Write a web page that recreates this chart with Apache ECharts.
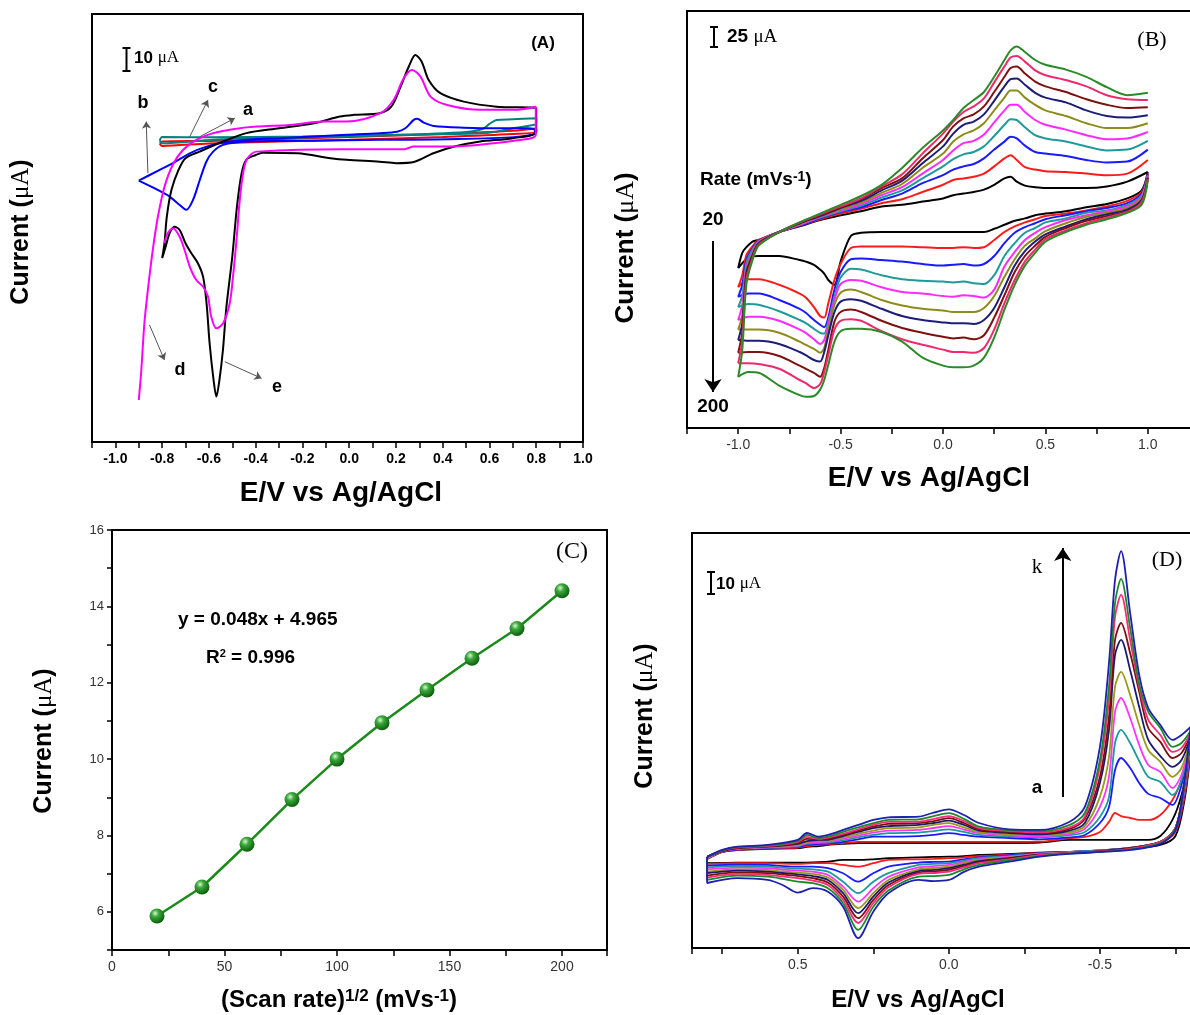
<!DOCTYPE html>
<html>
<head>
<meta charset="utf-8">
<title>CV panels A-D</title>
<script src="https://cdn.jsdelivr.net/npm/echarts@6/dist/echarts.min.js"></script>
<style>
  html, body { margin: 0; padding: 0; background: #fff; }
  #main { width: 1190px; height: 1015px; }
</style>
</head>
<body>
<div id="main"></div>
<script>
// ---------- panel A : five electrodes, potential (V) / current (uA) ----------
var A_a_E = [-0.81, -0.8, -0.6, 0.0, 0.4, 0.7, 0.8, 0.8, 0.7, 0.4, 0.0, -0.6, -0.8, -0.81];
var A_a_I = [-0.3, 0.8, 1.1, 3.0, 4.4, 5.9, 7.0, 5.5, 4.4, 3.0, 1.6, -0.1, -1.3, -0.3];

var A_c_E = [-0.81, -0.8, -0.6, -0.2, 0.2, 0.5, 0.57, 0.6, 0.63, 0.7, 0.8, 0.8, 0.7, 0.63, 0.56, 0.27, -0.3, -0.58, -0.8, -0.81];
var A_c_I = [1.5, 3.0, 2.8, 3.2, 4.0, 5.4, 6.8, 9.2, 11.1, 11.4, 11.9, 9.5, 7.1, 5.5, 4.8, 4.0, 2.4, 1.6, 0.0, 1.5];

var A_b_E = [-0.90, -0.825, -0.754, -0.682, -0.611, -0.539, -0.396, -0.296, -0.01, 0.133, 0.205, 0.24, 0.276, 0.291, 0.319, 0.362, 0.491, 0.634, 0.763, 0.794,
             0.794, 0.705, 0.419, 0.133, -0.153, -0.439, -0.539, -0.582, -0.611, -0.639, -0.668, -0.697, -0.725, -0.768, -0.825, -0.90];
var A_b_I = [-17.8, -13.5, -9.5, -4.8, -1.6, 0.3, 2.0, 2.4, 4.0, 4.8, 5.5, 7.1, 11.1, 11.6, 9.8, 8.2, 7.4, 7.1, 7.1, 6.3,
             4.8, 2.9, 1.9, 1.6, 1.2, 0.8, -0.8, -4.0, -8.8, -17.5, -27.0, -31.7, -29.4, -25.4, -21.9, -17.8];

var A_e_E = [-0.80, -0.79, -0.78, -0.76, -0.73, -0.70, -0.64, -0.54, -0.44, -0.30, -0.15, -0.04, 0.02, 0.13, 0.18, 0.22, 0.255, 0.283, 0.31, 0.34, 0.39, 0.49, 0.63, 0.80,
             0.80, 0.70, 0.56, 0.45, 0.36, 0.28, 0.20, 0.13, -0.01, -0.08, -0.22, -0.37, -0.40, -0.44, -0.46, -0.48, -0.50, -0.525, -0.54, -0.555, -0.568, -0.58,
             -0.597, -0.61, -0.625, -0.647, -0.675, -0.70, -0.725, -0.747, -0.768, -0.785, -0.80];
var A_e_I = [-54.7, -47.6, -34.9, -22.2, -12.7, -7.1, -4.0, 0.8, 4.8, 7.1, 9.5, 12.7, 13.5, 14.3, 17.4, 26.9, 36.5, 42.0, 38.8, 30.1, 23.8, 19.8, 17.4, 16.7,
             5.5, 2.4, 0.8, -1.6, -4.8, -8.8, -9.5, -8.8, -7.9, -7.1, -4.8, -4.5, -5.6, -7.9, -14.3, -30.2, -54.0, -77.8, -98.4, -112.7, -120.6, -112.7,
             -95.2, -76.2, -63.5, -57.1, -52.4, -47.6, -41.3, -39.7, -42.8, -49.2, -54.7];

var A_d_E = [-0.90, -0.89, -0.876, -0.861, -0.84, -0.818, -0.79, -0.754, -0.711, -0.654, -0.582, -0.497, -0.396, -0.253, -0.11, -0.01, 0.133, 0.19, 0.233, 0.269, 0.305,
             0.348, 0.419, 0.562, 0.705, 0.798, 0.798, 0.705, 0.419, 0.276, 0.233, 0.19, -0.039, -0.396, -0.418, -0.439, -0.454, -0.468, -0.482, -0.497, -0.511,
             -0.539, -0.568, -0.59, -0.604, -0.625, -0.654, -0.682, -0.704, -0.725, -0.754, -0.776, -0.79];
var A_d_I = [-122.2, -109.5, -85.7, -69.8, -50.8, -34.9, -20.7, -10.1, -3.2, 1.6, 4.8, 6.7, 7.9, 8.7, 10.3, 10.3, 14.3, 20.6, 30.9, 34.9, 31.7,
             22.2, 18.2, 15.9, 15.9, 17.4, 4.0, 1.2, -1.6, -1.6, -2.9, -2.9, -2.9, -4.0, -5.1, -7.9, -14.3, -27.0, -46.0, -63.5, -76.2,
             -85.7, -88.1, -82.5, -73.0, -68.3, -65.1, -58.7, -50.8, -44.5, -40.5, -42.8, -47.6];

// ---------- panel B : scan rates 20..200 mV/s ----------
var B_RATES = [20, 40, 60, 80, 100, 120, 140, 160, 180, 200];
var B_COLORS = ['#000000', '#ff1a1a', '#1a1aff', '#1f9a9a', '#ff2aff', '#8c8c1a', '#1c1c7a', '#7f1010', '#ee2a6a', '#2a8a2a'];
var B_UP_E = [-1.0, -0.98, -0.96, -0.93, -0.9, -0.8, -0.7, -0.6, -0.5, -0.4, -0.3, -0.2, -0.1, 0.0, 0.05, 0.1, 0.15, 0.2, 0.25, 0.3, 0.33, 0.36, 0.4, 0.45, 0.5, 0.6, 0.7, 0.8, 0.9, 1.0];
var B_DN_E = [1.0, 0.97, 0.9, 0.8, 0.7, 0.6, 0.5, 0.45, 0.4, 0.35, 0.3, 0.25, 0.2, 0.15, 0.1, 0.05, 0.0, -0.1, -0.2, -0.3, -0.4, -0.45, -0.5, -0.53, -0.56, -0.58, -0.6, -0.63, -0.67, -0.7, -0.8, -0.9, -0.95, -1.0];

var B_UP_20  = [-35, -16, -9, -2, 0, 10, 17, 25, 31, 36, 42, 44, 48, 52, 56, 58, 60, 63, 69, 77, 79, 73, 68, 66, 65, 65, 65, 67, 73, 85];
var B_UP_40  = [-59, -44, -19, -8, 0, 10, 18, 26, 33, 39, 46, 51, 60, 69, 75, 77, 79, 83, 92, 102, 106, 100, 91, 88, 86, 85, 83, 81, 83, 100];
var B_UP_60  = [-71, -56, -25, -10, -1, 10, 18, 27, 35, 41, 50, 58, 71, 81, 88, 92, 95, 102, 113, 123, 129, 127, 118, 110, 108, 105, 100, 97, 98, 113];
var B_UP_80  = [-84, -69, -29, -12, -2, 10, 19, 28, 36, 43, 53, 62, 77, 92, 101, 107, 110, 117, 130, 144, 151, 150, 141, 131, 127, 123, 117, 112, 113, 124];
var B_UP_100 = [-100, -81, -34, -15, -2, 10, 19, 29, 37, 45, 56, 66, 83, 100, 112, 121, 124, 132, 147, 162, 169, 169, 160, 150, 144, 138, 131, 126, 127, 135];
var B_UP_120 = [-112, -94, -37, -17, -3, 10, 20, 30, 38, 47, 59, 70, 90, 108, 123, 132, 137, 146, 162, 178, 187, 187, 178, 169, 162, 155, 146, 140, 140, 146];
var B_UP_140 = [-125, -104, -41, -19, -4, 10, 21, 30, 40, 49, 62, 74, 96, 117, 133, 144, 148, 157, 174, 192, 201, 202, 194, 184, 178, 172, 162, 155, 153, 156];
var B_UP_160 = [-141, -115, -45, -21, -5, 10, 21, 31, 41, 51, 65, 77, 102, 125, 142, 152, 157, 167, 185, 204, 215, 217, 208, 198, 192, 185, 176, 169, 165, 166];
var B_UP_180 = [-154, -125, -50, -23, -6, 10, 22, 32, 42, 52, 67, 82, 108, 133, 148, 160, 167, 177, 197, 217, 228, 230, 223, 212, 206, 200, 192, 181, 176, 175];
var B_UP_200 = [-171, -137, -55, -25, -7, 10, 22, 33, 44, 55, 69, 90, 115, 137, 150, 165, 175, 185, 204, 225, 237, 242, 235, 225, 219, 213, 204, 191, 181, 184];

var B_DN_20  = [85, 62, 52, 45, 41, 36, 33, 31, 27, 24, 19, 14, 10, 10, 10, 10, 10, 10, 10, 10, 9, 5, -27, -56, -50, -42, -37, -31, -27, -25, -20, -20, -22, -35];
var B_DN_40  = [83, 60, 49, 42, 37, 33, 30, 26, 22, 17, 10, 0, -9, -10, -9, -10, -10, -9, -8, -8, -8, -10, -30, -50, -79, -97, -95, -84, -72, -67, -56, -49, -49, -59];
var B_DN_60  = [82, 58, 46, 40, 36, 31, 26, 21, 16, 9, -4, -20, -30, -32, -30, -31, -32, -30, -27, -25, -23, -24, -40, -62, -97, -109, -106, -100, -91, -86, -75, -67, -67, -71];
var B_DN_80  = [81, 56, 44, 37, 34, 27, 22, 15, 9, -4, -20, -44, -55, -54, -52, -53, -52, -51, -49, -44, -37, -36, -47, -71, -102, -117, -116, -111, -104, -100, -89, -81, -80, -84];
var B_DN_100 = [80, 54, 42, 36, 31, 25, 16, 9, 0, -15, -33, -62, -72, -70, -69, -71, -70, -67, -65, -59, -51, -50, -55, -75, -106, -125, -130, -124, -116, -112, -101, -96, -96, -100];
var B_DN_120 = [79, 52, 40, 34, 29, 21, 11, 2, -7, -24, -46, -70, -85, -90, -90, -90, -88, -86, -82, -75, -65, -62, -66, -81, -112, -135, -141, -136, -131, -127, -116, -112, -112, -112];
var B_DN_140 = [78, 50, 38, 32, 26, 17, 7, -2, -14, -32, -59, -85, -100, -105, -104, -104, -103, -100, -95, -86, -76, -74, -77, -90, -119, -140, -152, -150, -144, -140, -130, -126, -126, -125];
var B_DN_160 = [77, 48, 36, 30, 24, 15, 4, -7, -20, -40, -69, -97, -119, -124, -122, -123, -121, -116, -110, -101, -90, -87, -90, -102, -137, -160, -171, -166, -161, -157, -145, -140, -140, -141];
var B_DN_180 = [76, 47, 35, 28, 21, 12, 1, -12, -27, -50, -79, -112, -135, -141, -140, -140, -137, -131, -124, -114, -101, -99, -101, -112, -144, -165, -180, -185, -179, -175, -161, -155, -154, -154];
var B_DN_200 = [75, 44, 34, 26, 19, 10, -2, -16, -32, -56, -87, -122, -147, -157, -159, -159, -157, -147, -127, -115, -111, -111, -114, -127, -156, -175, -187, -195, -196, -194, -182, -166, -165, -171];

// ---------- panel C : peak current vs (scan rate)^1/2 ----------
var C_RATE = [20, 40, 60, 80, 100, 120, 140, 160, 180, 200];
var C_CURRENT = [5.89, 6.65, 7.77, 8.94, 10.0, 10.95, 11.81, 12.64, 13.42, 14.41];

// ---------- panel D : curves a..k (reversed potential axis) ----------
var D_NAMES = ['a', 'b', 'c', 'd', 'e', 'f', 'g', 'h', 'i', 'j', 'k'];
var D_COLORS = ['#000000', '#ff1a1a', '#1a1aff', '#1a9a9a', '#ff33ff', '#9a9a1a', '#1a1a6e', '#7a1010', '#ff2a7a', '#1a8a2a', '#1f1fb0'];
var D_UP_E = [0.8, 0.75, 0.7, 0.6, 0.5, 0.47, 0.43, 0.4, 0.35, 0.3, 0.25, 0.2, 0.1, 0.05, 0.0, -0.05, -0.1, -0.2, -0.3, -0.4, -0.45, -0.5, -0.53, -0.55, -0.57, -0.6, -0.63, -0.66, -0.7, -0.74, -0.77, -0.8];
var D_DN_E = [-0.78, -0.75, -0.7, -0.6, -0.5, -0.4, -0.3, -0.2, -0.1, -0.05, 0.0, 0.05, 0.1, 0.2, 0.25, 0.3, 0.35, 0.4, 0.45, 0.5, 0.55, 0.6, 0.7, 0.8];

var D_UP_a = [-4.1, -0.9, 0, 0.5, 0.8, 1.4, 1.8, 2.3, 2.8, 3.2, 3.2, 3.2, 3.2, 3.2, 3.2, 3.2, 3.2, 3.2, 3.4, 4.6, 4.6, 4.6, 4.6, 4.6, 4.6, 4.6, 4.6, 4.6, 6.4, 13.8, 25.3, 45.1];
var D_UP_b = [-4.1, -0.9, 0, 0.7, 1.1, 1.8, 2.3, 2.6, 3.2, 3.7, 3.7, 3.7, 3.7, 3.7, 3.7, 3.7, 3.7, 3.7, 3.8, 5.4, 6.0, 8.3, 12.9, 17.0, 15.6, 14.7, 13.8, 13.8, 16.1, 23.0, 32.2, 46.9];
var D_UP_c = [-3.7, -0.9, 0.2, 0.9, 1.4, 2.3, 2.8, 2.9, 3.7, 4.9, 6.1, 6.1, 6.4, 6.9, 7.7, 6.9, 6.1, 5.5, 4.9, 5.8, 6.9, 12.4, 19.8, 36.8, 42.3, 37.7, 30.8, 25.8, 23.9, 20.7, 29.9, 48.3];
var D_UP_d = [-3.7, -0.7, 0.5, 1.1, 1.7, 2.8, 3.2, 3.4, 4.4, 5.8, 6.9, 7.7, 8.0, 8.7, 9.5, 8.3, 6.9, 6.1, 5.8, 6.8, 8.3, 15.2, 24.4, 49.2, 55.2, 49.2, 40.9, 33.6, 31.3, 25.3, 32.2, 49.2];
var D_UP_e = [-3.7, -0.7, 0.5, 1.2, 2.0, 3.2, 3.7, 3.8, 5.1, 6.6, 8.0, 8.9, 9.2, 10.1, 11.0, 9.4, 7.7, 6.7, 6.3, 7.4, 9.7, 19.8, 33.6, 63.5, 69.9, 60.7, 48.3, 39.1, 35.9, 28.5, 34.5, 50.1];
var D_UP_f = [-3.7, -0.5, 0.7, 1.4, 2.3, 3.7, 4.1, 4.3, 5.8, 7.4, 8.9, 10.0, 10.4, 11.5, 12.3, 10.4, 8.3, 7.2, 6.8, 8.1, 11.0, 24.4, 42.8, 75.0, 81.9, 71.3, 57.5, 46.0, 40.5, 33.6, 37.7, 51.1];
var D_UP_g = [-3.2, -0.5, 0.9, 1.5, 2.8, 4.1, 4.6, 4.7, 6.4, 8.3, 10.0, 11.0, 11.5, 12.4, 13.5, 11.5, 8.9, 7.8, 7.2, 8.9, 12.4, 30.8, 55.2, 89.7, 96.6, 82.8, 65.8, 50.6, 43.2, 38.2, 41.4, 52.0];
var D_UP_h = [-3.2, -0.5, 0.9, 1.7, 3.2, 5.1, 4.8, 5.2, 6.9, 8.9, 10.7, 12.0, 12.3, 13.3, 14.6, 12.4, 9.5, 8.3, 7.7, 9.7, 14.3, 33.6, 61.2, 96.6, 104.4, 90.6, 72.7, 56.1, 49.7, 42.3, 44.6, 52.9];
var D_UP_i = [-3.2, -0.2, 1.2, 1.8, 3.7, 6.0, 5.1, 5.7, 7.4, 9.5, 11.5, 12.9, 13.0, 14.3, 15.6, 13.3, 10.0, 8.7, 8.1, 10.4, 15.2, 38.2, 69.0, 107.2, 117.3, 96.6, 75.0, 59.8, 52.9, 45.1, 46.9, 53.8];
var D_UP_j = [-3.2, -0.2, 1.4, 2.1, 4.1, 6.9, 5.5, 6.1, 8.3, 10.4, 12.3, 13.8, 14.1, 15.6, 16.9, 14.3, 10.7, 9.1, 8.6, 11.5, 17.0, 41.4, 75.0, 113.6, 124.7, 102.1, 76.4, 63.5, 56.1, 47.4, 49.2, 54.7];
var D_UP_k = [-3.2, 0, 1.5, 2.3, 4.6, 7.8, 6.1, 6.9, 9.2, 11.5, 13.8, 15.0, 15.3, 17.2, 18.7, 16.1, 12.4, 9.5, 9.2, 13.0, 19.8, 47.4, 86.0, 124.2, 137.5, 109.0, 80.5, 65.3, 57.5, 50.6, 52.9, 56.6];

var D_DN_a = [23.0, 6.4, 2.3, 0.5, -0.5, -0.9, -1.2, -1.8, -2.3, -2.8, -3.1, -3.2, -3.4, -3.8, -4.3, -4.6, -4.6, -5.4, -5.7, -5.8, -5.8, -5.8, -5.8, -6.1];
var D_DN_b = [24.8, 8.3, 3.2, 0.9, -0.2, -0.9, -1.4, -2.2, -2.8, -3.4, -3.8, -4.1, -4.3, -4.6, -6.1, -7.7, -6.9, -6.1, -6.1, -6.4, -6.3, -6.1, -6.1, -6.4];
var D_DN_c = [26.7, 9.2, 3.7, 0.9, -0.2, -0.9, -1.5, -2.4, -3.4, -4.3, -5.4, -5.5, -5.8, -7.7, -10.7, -14.6, -10.7, -8.4, -7.7, -7.7, -7.4, -6.9, -6.8, -7.2];
var D_DN_d = [27.6, 9.7, 3.7, 0.9, -0.2, -0.9, -1.7, -2.8, -3.8, -4.9, -6.1, -6.4, -6.9, -10.7, -14.6, -19.9, -14.6, -10.0, -8.9, -8.6, -8.1, -7.7, -7.4, -8.0];
var D_DN_e = [28.5, 10.1, 3.7, 0.9, -0.5, -1.2, -1.8, -3.1, -4.3, -5.5, -6.9, -7.4, -8.0, -12.3, -17.6, -23.8, -16.9, -11.5, -10.0, -9.5, -9.0, -8.4, -8.1, -8.9];
var D_DN_f = [29.4, 10.1, 3.7, 0.9, -0.5, -1.2, -2.0, -3.4, -4.7, -6.1, -7.7, -8.3, -8.9, -13.8, -19.9, -26.8, -18.4, -12.7, -11.0, -10.4, -9.9, -9.2, -8.9, -10.0];
var D_DN_g = [29.9, 10.1, 3.7, 0.9, -0.5, -1.4, -2.2, -3.7, -5.2, -6.8, -8.4, -9.2, -9.7, -15.0, -21.5, -29.1, -19.9, -13.8, -12.0, -11.2, -10.6, -10.0, -9.5, -10.7];
var D_DN_h = [30.4, 10.1, 3.7, 0.7, -0.7, -1.4, -2.3, -4.0, -5.7, -7.4, -9.2, -9.9, -10.4, -16.1, -23.0, -31.4, -21.5, -15.0, -13.0, -12.0, -11.3, -10.7, -10.3, -11.8];
var D_DN_i = [30.8, 10.1, 3.7, 0.5, -0.7, -1.4, -2.4, -4.3, -6.1, -8.0, -10.0, -10.6, -11.0, -17.2, -24.5, -33.6, -23.0, -16.1, -14.1, -13.0, -12.2, -11.5, -11.0, -12.7];
var D_DN_j = [31.3, 9.7, 3.2, 0.2, -0.9, -1.6, -2.8, -4.7, -6.9, -8.9, -11.5, -12.0, -12.3, -18.7, -26.1, -36.8, -24.5, -17.6, -15.3, -14.6, -13.3, -12.3, -11.8, -13.8];
var D_DN_k = [32.2, 9.2, 2.8, 0, -0.9, -1.8, -3.1, -5.4, -7.7, -10.1, -13.8, -14.3, -13.8, -19.9, -28.4, -40.6, -26.1, -19.2, -17.6, -19.6, -16.1, -13.8, -13.0, -15.2];

// ---------- helpers ----------
var SANS = "'Liberation Sans', Arial, sans-serif";
var SERIF = "'Liberation Serif', 'Times New Roman', serif";

function pairs(E, I) {
    var out = [];
    for (var i = 0; i < E.length; i++) out.push([E[i], I[i]]);
    return out;
}

function cv(idx, data, color, width) {
    return {
        type: 'line', xAxisIndex: idx, yAxisIndex: idx,
        data: data, showSymbol: false, symbol: 'none',
        smooth: 0.3, silent: true, animation: false,
        lineStyle: { color: color, width: width || 2 },
        itemStyle: { color: color }
    };
}

function arrows(idx, lines, color, width, size) {
    return {
        type: 'line', xAxisIndex: idx, yAxisIndex: idx,
        data: [lines[0][0]], symbol: 'none', showSymbol: false,
        lineStyle: { opacity: 0 }, silent: true, animation: false,
        markLine: {
            silent: true, animation: false,
            symbol: ['none', 'arrow'], symbolSize: size,
            label: { show: false },
            lineStyle: { color: color, width: width, type: 'solid' },
            data: lines.map(function (l) { return [{ coord: l[0] }, { coord: l[1] }]; })
        }
    };
}

function txt(x, y, text, size, weight, family, align, rot) {
    return {
        type: 'text', x: x, y: y, rotation: rot || 0, silent: true, z: 100,
        style: {
            text: text, fill: '#000',
            font: (weight || 'normal') + ' ' + size + 'px ' + (family || SANS),
            align: align || 'center', verticalAlign: 'middle',
            textAlign: align || 'center', textVerticalAlign: 'middle'
        }
    };
}

function rtxt(x, y, text, rich, align, rot) {
    return {
        type: 'text', x: x, y: y, rotation: rot || 0, silent: true, z: 100,
        style: {
            text: text, rich: rich, fill: '#000',
            align: align || 'center', verticalAlign: 'middle',
            textAlign: align || 'center', textVerticalAlign: 'middle'
        }
    };
}

function seg(x1, y1, x2, y2, w) {
    return { type: 'line', silent: true, z: 100, shape: { x1: x1, y1: y1, x2: x2, y2: y2 }, style: { stroke: '#000', lineWidth: w || 2 } };
}

function bar(x, y1, y2) {
    return [seg(x, y1, x, y2), seg(x - 4, y1, x + 4, y1), seg(x - 4, y2, x + 4, y2)];
}

function currentTitle(x, y, size) {
    return rtxt(x, y, '{b|Current }{b|(}{m|μA}{b|)}', {
        b: { fontFamily: SANS, fontWeight: 'bold', fontSize: size, fill: '#000' },
        m: { fontFamily: SERIF, fontSize: size, fill: '#000' }
    }, 'center', Math.PI / 2);
}

function scaleText(x, y, num, size) {
    return rtxt(x, y, '{b|' + num + ' }{m|μA}', {
        b: { fontFamily: SANS, fontWeight: 'bold', fontSize: size, fill: '#000' },
        m: { fontFamily: SERIF, fontSize: size, fill: '#000' }
    }, 'left');
}

var fmtA = function (v) {
    var r = Math.round(v * 10);
    if (r < -10 || r % 2 !== 0) return '';
    return (r / 10).toFixed(1);
};
var fmtHalf = function (v) {
    var q = v * 4, r = Math.round(q);
    if (Math.abs(q - r) > 1e-6 || r % 2 !== 0) return '';
    return (r / 4).toFixed(1);
};

function frameGrid(l, t, w, h) {
    return {
        left: l, top: t, width: w, height: h,
        outerBoundsMode: 'none', containLabel: false,
        show: true, borderColor: '#000', borderWidth: 2, backgroundColor: 'transparent'
    };
}

function xAx(idx, min, max, step, fmt, labelStyle, inverse) {
    return {
        gridIndex: idx, type: 'value', min: min, max: max, interval: step, inverse: !!inverse,
        position: 'bottom',
        axisLine: { show: false, onZero: false },
        axisTick: { show: true, length: 6, lineStyle: { color: '#000', width: 1.5 } },
        axisLabel: Object.assign({ formatter: fmt, margin: 10, color: '#000', fontFamily: SANS, fontSize: 14 }, labelStyle || {}),
        splitLine: { show: false }
    };
}

function hiddenY(idx, min, max) {
    return { gridIndex: idx, type: 'value', min: min, max: max, show: false, axisLine: { onZero: false }, splitLine: { show: false } };
}

// ---------- series ----------
var series = [];
series.push(cv(0, pairs(A_a_E, A_a_I), '#ff0000'));
series.push(cv(0, pairs(A_c_E, A_c_I), '#008080'));
series.push(cv(0, pairs(A_b_E, A_b_I), '#0000ff'));
series.push(cv(0, pairs(A_e_E, A_e_I), '#000000'));
series.push(cv(0, pairs(A_d_E, A_d_I), '#ff00ff'));
series.push(arrows(0, [
    [[-0.639, 3.1], [-0.489, 11.9]],
    [[-0.682, 3.1], [-0.604, 20.6]],
    [[-0.861, -14.3], [-0.868, 10.3]],
    [[-0.854, -86.5], [-0.79, -103.2]],
    [[-0.532, -104], [-0.375, -111.9]]
], '#555', 1, 7));

var B_UPS = [B_UP_20, B_UP_40, B_UP_60, B_UP_80, B_UP_100, B_UP_120, B_UP_140, B_UP_160, B_UP_180, B_UP_200];
var B_DNS = [B_DN_20, B_DN_40, B_DN_60, B_DN_80, B_DN_100, B_DN_120, B_DN_140, B_DN_160, B_DN_180, B_DN_200];
B_RATES.forEach(function (r, i) {
    series.push(cv(1, pairs(B_UP_E, B_UPS[i]), B_COLORS[i], 2));
    series.push(cv(1, pairs(B_DN_E, B_DNS[i]), B_COLORS[i], 2));
});
series.push(arrows(1, [[[-1.123, -1.25], [-1.123, -190]]], '#000', 2, 13));

series.push({
    type: 'line', xAxisIndex: 2, yAxisIndex: 2, animation: false,
    data: pairs(C_RATE, C_CURRENT),
    symbol: 'circle', symbolSize: 15, showSymbol: true,
    lineStyle: { color: '#1b8a1b', width: 2.5 },
    itemStyle: {
        color: {
            type: 'radial', x: 0.38, y: 0.32, r: 0.7,
            colorStops: [
                { offset: 0, color: '#d9f7d0' },
                { offset: 0.35, color: '#3aa83a' },
                { offset: 1, color: '#0b5a0b' }
            ]
        }
    }
});

var D_UPS = [D_UP_a, D_UP_b, D_UP_c, D_UP_d, D_UP_e, D_UP_f, D_UP_g, D_UP_h, D_UP_i, D_UP_j, D_UP_k];
var D_DNS = [D_DN_a, D_DN_b, D_DN_c, D_DN_d, D_DN_e, D_DN_f, D_DN_g, D_DN_h, D_DN_i, D_DN_j, D_DN_k];
D_NAMES.forEach(function (n, i) {
    var loop = pairs(D_UP_E, D_UPS[i]).concat(pairs(D_DN_E, D_DNS[i]));
    loop.push([D_UP_E[0], D_UPS[i][0]]);
    series.push(cv(3, loop, D_COLORS[i], 1.8));
});
series.push(arrows(3, [[[-0.377, 24.4], [-0.377, 138.9]]], '#000', 2, 13));

// ---------- texts / decorations ----------
var graphic = [].concat(
    // A
    currentTitle(21, 232, 25),
    txt(341, 493, 'E/V vs Ag/AgCl', 28, 'bold'),
    txt(543, 43, '(A)', 17, 'bold'),
    bar(126.5, 48, 71),
    scaleText(134, 58, '10', 17),
    txt(248, 110, 'a', 18, 'bold'),
    txt(143, 103, 'b', 18, 'bold'),
    txt(213, 87, 'c', 18, 'bold'),
    txt(180, 370, 'd', 18, 'bold'),
    txt(277, 387, 'e', 18, 'bold'),
    // B
    currentTitle(626, 248, 26),
    txt(929, 478, 'E/V vs Ag/AgCl', 28, 'bold'),
    txt(1152, 40, '(B)', 22, 'normal', SERIF),
    bar(714, 27, 47),
    scaleText(727, 37, '25', 19),
    rtxt(700, 180, '{b|Rate (mVs}{s|-1}{b|)}', {
        b: { fontFamily: SANS, fontWeight: 'bold', fontSize: 19, fill: '#000' },
        s: { fontFamily: SANS, fontWeight: 'bold', fontSize: 14, fill: '#000', verticalAlign: 'top' }
    }, 'left'),
    txt(713, 220, '20', 19, 'bold'),
    txt(713, 407, '200', 19, 'bold'),
    // C
    currentTitle(44, 741, 25),
    rtxt(339, 1000, '{b|(Scan rate)}{s|1/2}{b| (mVs}{s|-1}{b|)}', {
        b: { fontFamily: SANS, fontWeight: 'bold', fontSize: 24, fill: '#000' },
        s: { fontFamily: SANS, fontWeight: 'bold', fontSize: 17, fill: '#000', verticalAlign: 'top' }
    }, 'center'),
    txt(572, 552, '(C)', 24, 'normal', SERIF),
    txt(178, 620, 'y = 0.048x + 4.965', 19, 'bold', SANS, 'left'),
    rtxt(206, 658, '{b|R}{s|2}{b| = 0.996}', {
        b: { fontFamily: SANS, fontWeight: 'bold', fontSize: 19, fill: '#000' },
        s: { fontFamily: SANS, fontWeight: 'bold', fontSize: 11, fill: '#000', verticalAlign: 'top' }
    }, 'left'),
    // D
    currentTitle(645, 716, 25),
    txt(918, 1000, 'E/V vs Ag/AgCl', 24, 'bold'),
    txt(1167, 560, '(D)', 22, 'normal', SERIF),
    bar(711, 572, 594),
    scaleText(716, 584, '10', 17),
    txt(1037, 567, 'k', 21, 'normal', SERIF),
    txt(1037, 788, 'a', 19, 'bold')
);

var chart = echarts.init(document.getElementById('main'), null, { renderer: 'canvas' });
chart.setOption({
    backgroundColor: '#ffffff',
    animation: false,
    textStyle: { fontFamily: SANS },
    grid: [
        frameGrid(92, 14, 491, 428),
        frameGrid(687, 11, 512, 417),
        frameGrid(112, 530, 495, 420),
        frameGrid(692, 533, 559, 415)
    ],
    xAxis: [
        xAx(0, -1.1, 1.0, 0.1, fmtA, { fontWeight: 'bold', fontSize: 14 }),
        xAx(1, -1.25, 1.25, 0.25, fmtHalf, { color: '#333', fontSize: 14 }),
        xAx(2, 0, 220, 25, function (v) { return v % 50 === 0 && v <= 200 ? String(v) : ''; }, { color: '#333', fontSize: 14 }),
        xAx(3, -1.0, 0.85, 0.25, fmtHalf, { color: '#333', fontSize: 14 }, true)
    ],
    yAxis: [
        hiddenY(0, -142.2, 61.5),
        hiddenY(1, -235, 286.25),
        {
            gridIndex: 2, type: 'value', min: 5, max: 16, interval: 1,
            axisLine: { show: false, onZero: false },
            axisTick: { show: true, length: 5, lineStyle: { color: '#000', width: 1.5 } },
            axisLabel: { formatter: function (v) { return v % 2 === 0 ? String(v) : ''; }, color: '#333', fontSize: 13, fontFamily: SANS, margin: 8 },
            splitLine: { show: false }
        },
        hiddenY(3, -45.1, 145.8)
    ],
    graphic: graphic,
    series: series
});
</script>
</body>
</html>
